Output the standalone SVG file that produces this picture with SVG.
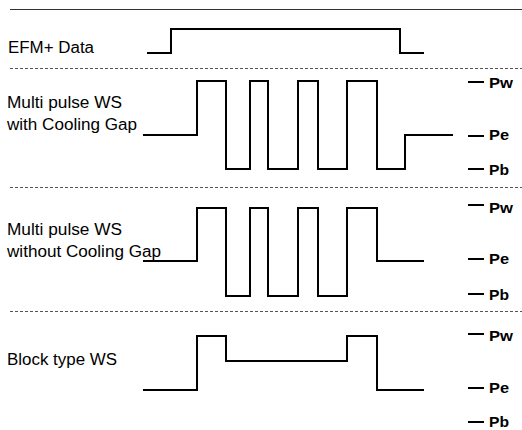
<svg xmlns="http://www.w3.org/2000/svg" width="522" height="430" viewBox="0 0 522 430">
<style>
.lbl{font-family:"Liberation Sans",Arial,sans-serif;font-size:16px;fill:#000}
.lv{font-family:"Liberation Sans",Arial,sans-serif;font-size:15px;font-weight:bold;fill:#000}
.w{fill:none;stroke:#000;stroke-width:2;stroke-linejoin:miter}
.t{stroke:#000;stroke-width:2}
.sep{stroke:#555;stroke-width:1;stroke-dasharray:3,2}
</style>
<rect width="522" height="430" fill="#fff"/>
<line x1="10" y1="9.5" x2="522" y2="9.5" stroke="#333" stroke-width="1"/>
<g id="separators">
<line class="sep" x1="10" y1="68.5" x2="522" y2="68.5"/>
<line class="sep" x1="10" y1="187.5" x2="522" y2="187.5"/>
<line class="sep" x1="10" y1="311.5" x2="522" y2="311.5"/>
</g>
<g id="efm">
<text class="lbl" x="8" y="53" textLength="86" lengthAdjust="spacingAndGlyphs">EFM+ Data</text>
<path class="w" d="M147,53 H171 V29 H400 V53 H424"/>
</g>
<g id="mp-cg">
<text class="lbl" x="7" y="108" textLength="115" lengthAdjust="spacingAndGlyphs">Multi pulse WS</text>
<text class="lbl" x="7" y="130" textLength="130" lengthAdjust="spacingAndGlyphs">with Cooling Gap</text>
<path class="w" d="M143,135 H197 V81 H226 V169 H250 V81 H268 V169 H298 V81 H318 V169 H347 V81 H377 V169 H405 V135 H453"/>
<line class="t" x1="468" y1="82" x2="484" y2="82"/><text class="lv" x="489" y="88" textLength="24" lengthAdjust="spacingAndGlyphs">Pw</text>
<line class="t" x1="468" y1="136" x2="484" y2="136"/><text class="lv" x="489" y="139.5" textLength="20" lengthAdjust="spacingAndGlyphs">Pe</text>
<line class="t" x1="468" y1="169" x2="484" y2="169"/><text class="lv" x="489" y="175" textLength="20" lengthAdjust="spacingAndGlyphs">Pb</text>
</g>
<g id="mp-nocg">
<text class="lbl" x="7" y="235" textLength="115" lengthAdjust="spacingAndGlyphs">Multi pulse WS</text>
<text class="lbl" x="7" y="257" textLength="154" lengthAdjust="spacingAndGlyphs">without Cooling Gap</text>
<path class="w" d="M143,261 H197 V208 H226 V296 H250 V208 H268 V296 H298 V208 H318 V296 H347 V208 H377 V261 H424"/>
<line class="t" x1="468" y1="205" x2="484" y2="205"/><text class="lv" x="489" y="213" textLength="24" lengthAdjust="spacingAndGlyphs">Pw</text>
<line class="t" x1="468" y1="259" x2="484" y2="259"/><text class="lv" x="489" y="264" textLength="20" lengthAdjust="spacingAndGlyphs">Pe</text>
<line class="t" x1="468" y1="294" x2="484" y2="294"/><text class="lv" x="489" y="300" textLength="20" lengthAdjust="spacingAndGlyphs">Pb</text>
</g>
<g id="block">
<text class="lbl" x="7" y="365" textLength="110" lengthAdjust="spacingAndGlyphs">Block type WS</text>
<path class="w" d="M143,390 H197 V336 H226 V361 H347 V336 H377 V390 H424"/>
<line class="t" x1="468" y1="334" x2="484" y2="334"/><text class="lv" x="489" y="341" textLength="24" lengthAdjust="spacingAndGlyphs">Pw</text>
<line class="t" x1="468" y1="388" x2="484" y2="388"/><text class="lv" x="489" y="393" textLength="20" lengthAdjust="spacingAndGlyphs">Pe</text>
<line class="t" x1="468" y1="422" x2="484" y2="422"/><text class="lv" x="489" y="427" textLength="20" lengthAdjust="spacingAndGlyphs">Pb</text>
</g>
</svg>
